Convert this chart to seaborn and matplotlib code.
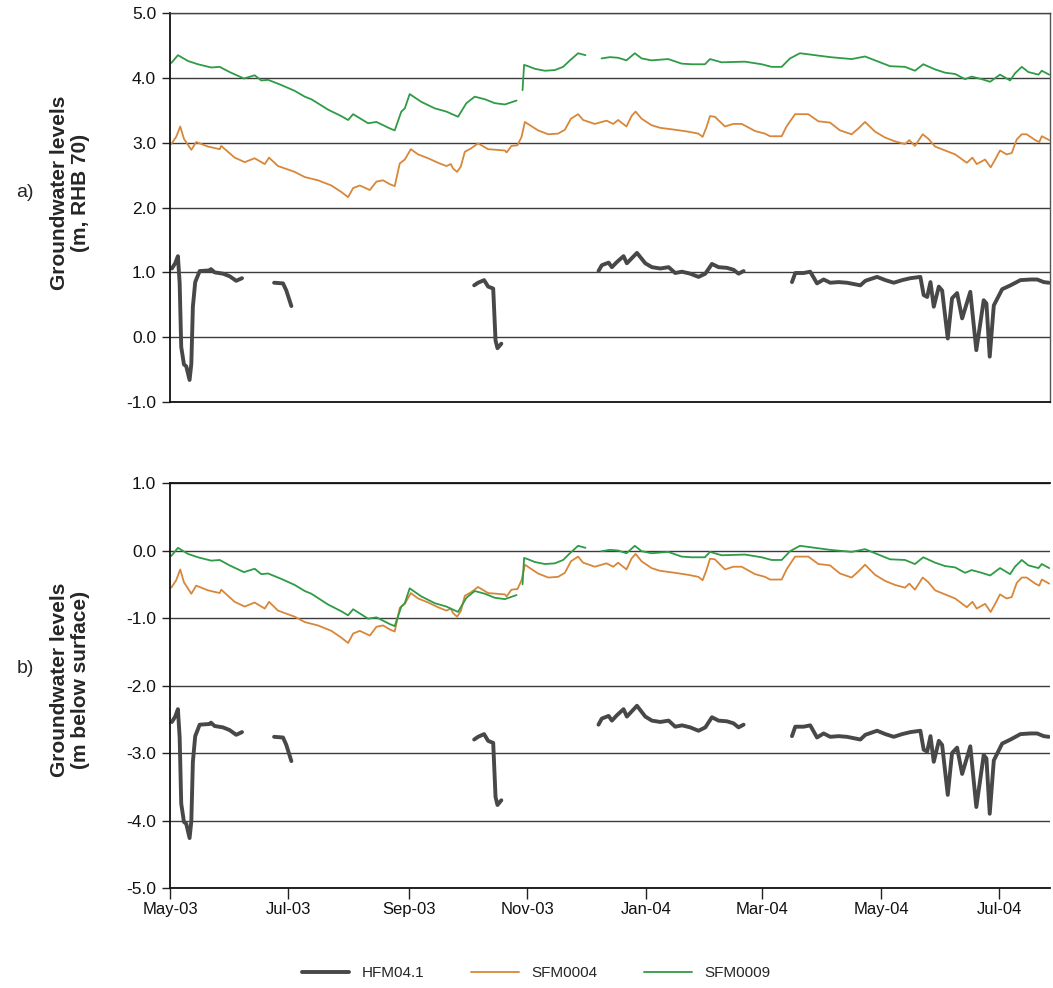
import numpy as np
import pandas as pd
import matplotlib
matplotlib.use("Agg")
import matplotlib.pyplot as plt
import matplotlib.dates as mdates
from matplotlib.lines import Line2D
import seaborn as sns

# ---------------- data (days since 2003-05-01, levels in m RHB 70) ----------------
start_date = "2003-05-01"
nan = np.nan

hfm_days = [1, 2.7, 4.1, 5, 5.8, 7.2, 8.4, 10.1, 11, 11.8, 13, 15.3, 20.4, 21.1, 23, 27.3, 30.7, 34.1, 37.1,
            45,
            53.6, 58.2, 59.9, 62.5,
            100,
            156.6, 158.6, 161.7, 163.8, 166.4, 167.6, 168.6, 170.6,
            200,
            220.6, 222.3, 225.8, 227.5, 230.1, 233.5, 235.2, 240.4, 244.7, 248.1, 252.4, 256.7, 260.1,
            263.6, 267.8, 272.1, 275.6, 279, 282.4, 286.7, 290.1, 292.7, 295.3,
            310,
            320.2, 321.9, 326.2, 329.6, 333.1, 336.5, 339.9, 344.2, 348.5, 355.4, 358, 364, 368.3, 372.6,
            376.9, 381.2, 386.3, 388, 389.8, 391.5, 393.2, 395.8, 397.5, 400.4, 402.6, 405.2, 407.8, 412,
            415.1, 418.9, 420.3, 422, 424.1, 428.4, 432.7, 437.8, 443, 446.4, 449.8, 452.4]
hfm_vals = [1.06, 1.14, 1.25, 0.83, -0.15, -0.42, -0.45, -0.66, -0.41, 0.47, 0.85, 1.02, 1.03, 1.05, 1.00,
            0.98, 0.94, 0.87, 0.91,
            nan,
            0.84, 0.83, 0.72, 0.48,
            nan,
            0.80, 0.84, 0.88, 0.78, 0.75, -0.05, -0.17, -0.10,
            nan,
            1.02, 1.11, 1.15, 1.08, 1.16, 1.25, 1.14, 1.30, 1.14, 1.08, 1.06, 1.08, 0.99,
            1.01, 0.98, 0.93, 0.98, 1.13, 1.08, 1.07, 1.04, 0.98, 1.02,
            nan,
            0.85, 0.99, 0.99, 1.01, 0.83, 0.89, 0.84, 0.85, 0.84, 0.80, 0.87, 0.93, 0.88, 0.84,
            0.88, 0.91, 0.93, 0.65, 0.62, 0.85, 0.47, 0.78, 0.72, -0.02, 0.60, 0.68, 0.29, 0.70,
            -0.20, 0.57, 0.52, -0.30, 0.49, 0.74, 0.80, 0.88, 0.89, 0.89, 0.85, 0.84]

sfm4_days = [0.7, 3.2, 5.3, 7.2, 11, 13.5, 19.6, 25.6, 26.4, 33.3, 38.5, 43.6, 48.8, 51, 55.6, 64.2, 69.4,
             76.2, 83.1, 88.2, 91.7, 94.3, 97.7, 102.9, 106.3, 109.7, 113.2, 115.7, 118.3, 120.9, 124,
             127.7, 132.9, 138, 142.3, 144.6, 145.8, 147.8, 149.7, 151.8, 154.9, 158.6, 163.8, 172.4,
             173.3, 175.8, 178.9, 181, 182.7, 185.3, 189.5, 194.7, 199.8, 203.3, 206.4, 210.1, 212.7,
             218.7, 224.7, 228.2, 230.7, 235, 237.6, 239.7, 242.8, 247.9, 252.2, 260, 266.8, 272, 274.2,
             276.2, 278, 280.5, 285.7, 290, 294.3, 301.2, 306.3, 308.9, 314.9, 317.4, 321.8, 328.6,
             333.8, 339.8, 344.9, 350.9, 354.4, 357.8, 363, 368.1, 373.3, 378.4, 380.6, 383.5, 387.5,
             390.4, 393.9, 399, 404.2, 410.2, 413.1, 415.3, 419.6, 422.5, 424.8, 427.3, 430.7, 433.3,
             435.9, 438.5, 441, 445.4, 447.5, 448.8, 452.6]
sfm4_vals = [2.98, 3.09, 3.25, 3.06, 2.89, 3.01, 2.94, 2.90, 2.95, 2.77, 2.70, 2.76, 2.67, 2.77, 2.64, 2.55,
             2.47, 2.42, 2.34, 2.24, 2.16, 2.30, 2.34, 2.27, 2.40, 2.42, 2.36, 2.33, 2.68, 2.74, 2.90,
             2.82, 2.76, 2.69, 2.64, 2.67, 2.60, 2.55, 2.63, 2.86, 2.91, 2.99, 2.90, 2.88,
             2.85, 2.95, 2.96, 3.09, 3.32, 3.27, 3.19, 3.13, 3.14, 3.20, 3.37, 3.44, 3.35,
             3.29, 3.34, 3.29, 3.35, 3.25, 3.41, 3.48, 3.37, 3.27, 3.23, 3.20, 3.17, 3.14, 3.09,
             3.24, 3.41, 3.40, 3.25, 3.29, 3.29, 3.18, 3.14, 3.10, 3.10, 3.25, 3.44, 3.44,
             3.33, 3.31, 3.19, 3.13, 3.22, 3.32, 3.17, 3.08, 3.02, 2.98, 3.04, 2.95, 3.13,
             3.06, 2.94, 2.88, 2.82, 2.69, 2.77, 2.67, 2.74, 2.62, 2.74, 2.88, 2.82, 2.84,
             3.05, 3.13, 3.13, 3.04, 3.01, 3.10, 3.04]

sfm9_days = [0.7, 4.1, 9.3, 14.4, 21.3, 25.6, 30.7, 38.1, 43.6, 47, 50.5, 57.3, 64.2, 69.4, 72.8, 81.4,
             88.2, 91.7, 94.3, 102, 106.3, 113.2, 115.7, 119.1, 120.9, 123.4, 129.4, 136.3, 142.3, 148.3,
             152.6, 156.9, 162.1, 167.2, 172.4, 178.4,
             180,
             181.5, 182.3, 184.4, 187.8, 193, 198.1, 202.4, 205.9, 210.1, 213.9,
             218,
             222.2, 226.5, 230.7, 235, 239.3, 242.8, 247.9, 256.5, 263.4, 268.5, 275.4, 278, 284, 296,
             304.6, 309.7, 314.9, 319.2, 324.3, 332.1, 339.8, 350.9, 357.8, 364.7, 370.7, 378.4, 383.5,
             387.8, 393.9, 399, 404.2, 409.3, 412.7, 417.9, 422.2, 427.3, 432.5, 435, 438.5, 441.9,
             447.1, 448.8, 452.6]
sfm9_vals = [4.23, 4.35, 4.26, 4.21, 4.16, 4.17, 4.09, 3.99, 4.04, 3.96, 3.97, 3.89, 3.80, 3.71, 3.67, 3.51,
             3.41, 3.35, 3.44, 3.30, 3.32, 3.22, 3.19, 3.48, 3.53, 3.75, 3.63, 3.53, 3.48, 3.40,
             3.61, 3.71, 3.67, 3.61, 3.59, 3.65,
             nan,
             3.81, 4.20, 4.18, 4.14, 4.11, 4.12, 4.17, 4.27, 4.38, 4.35,
             nan,
             4.30, 4.32, 4.31, 4.27, 4.38, 4.30, 4.27, 4.29, 4.22, 4.21, 4.21, 4.29, 4.24, 4.25,
             4.21, 4.17, 4.17, 4.30, 4.38, 4.35, 4.32, 4.29, 4.33, 4.25, 4.18, 4.17, 4.11,
             4.21, 4.13, 4.08, 4.06, 3.98, 4.02, 3.98, 3.94, 4.05, 3.96, 4.07, 4.17, 4.09,
             4.05, 4.11, 4.05]

# ground surface elevations (m RHB 70) used for panel b (m below surface)
surface = {"HFM04.1": 3.60, "SFM0004": 3.53, "SFM0009": 4.31}

wells = ["HFM04.1", "SFM0004", "SFM0009"]
colors = {"HFM04.1": "#484848", "SFM0004": "#D8873A", "SFM0009": "#2E9B45"}
widths = {"HFM04.1": 2.8, "SFM0004": 1.3, "SFM0009": 1.3}

series = {"HFM04.1": (hfm_days, hfm_vals),
          "SFM0004": (sfm4_days, sfm4_vals),
          "SFM0009": (sfm9_days, sfm9_vals)}

t0 = pd.Timestamp(start_date)
frames = []
for w in wells:
    d, v = series[w]
    df = pd.DataFrame({"day": d, "level": v})
    df["seg"] = df["level"].isna().cumsum()
    df = df.dropna()
    df["date"] = t0 + pd.to_timedelta(df["day"], unit="D")
    df["well"] = w
    df["below"] = df["level"] - surface[w]
    frames.append(df)
data = pd.concat(frames, ignore_index=True)

# ---------------- figure ----------------
sns.set_theme(style="white")
plt.rcParams["font.family"] = ["Liberation Sans", "DejaVu Sans"]
plt.rcParams["axes.unicode_minus"] = False

fig = plt.figure(figsize=(10.53, 9.88), dpi=100)
ax1 = fig.add_axes([0.1614, 0.5931, 0.8357, 0.3937])
ax2 = fig.add_axes([0.1614, 0.1012, 0.8357, 0.4099])

xmin = pd.Timestamp("2003-05-01")
xmax = pd.Timestamp("2004-07-27")

for ax, col, ylim in [(ax1, "level", (-1, 5)), (ax2, "below", (-5, 1))]:
    for w in wells:
        sub = data[data["well"] == w]
        for _, seg in sub.groupby("seg"):
            sns.lineplot(data=seg, x="date", y=col, ax=ax, color=colors[w],
                         linewidth=widths[w], estimator=None, sort=False, legend=False)
    ax.set_xlim(xmin, xmax)
    ax.set_ylim(*ylim)
    ax.set_yticks(np.arange(ylim[0], ylim[1] + 0.01, 1.0))
    ax.yaxis.set_major_formatter(matplotlib.ticker.FormatStrFormatter("%.1f"))
    ax.yaxis.grid(True, color="#3c3c3c", linewidth=1.0)
    ax.xaxis.grid(False)
    ax.set_axisbelow(True)
    ax.set_xlabel("")
    ax.set_ylabel("")
    ax.tick_params(axis="y", direction="out", length=6, width=1, color="#222222",
                   labelsize=12.5, pad=4, left=True, labelcolor="#111111")
    for s in ["left", "bottom"]:
        ax.spines[s].set_color("#111111")
        ax.spines[s].set_linewidth(1.3)
    ax.spines["top"].set_color("#444444")
    ax.spines["top"].set_linewidth(1.0)
    ax.spines["right"].set_color("#555555")
    ax.spines["right"].set_linewidth(1.0)
    ax.xaxis.set_major_locator(mdates.MonthLocator(bymonth=[1, 3, 5, 7, 9, 11]))
    ax.xaxis.set_major_formatter(mdates.DateFormatter("%b-%y"))

ax1.tick_params(axis="x", bottom=False, labelbottom=False)
ax2.tick_params(axis="x", direction="out", length=8, width=1, color="#222222",
                labelsize=12, pad=2, bottom=True, labelcolor="#111111")
ax2.spines["top"].set_color("#111111")
ax2.spines["top"].set_linewidth(1.3)
ax2.spines["right"].set_visible(False)

# y labels
fig.text(70 / 1053, 1 - 193 / 988, "Groundwater levels\n(m, RHB 70)", rotation=90,
         ha="center", va="center", fontsize=15, fontweight="bold", linespacing=1.1)
fig.text(70 / 1053, 1 - 680 / 988, "Groundwater levels\n(m below surface)", rotation=90,
         ha="center", va="center", fontsize=15, fontweight="bold", linespacing=1.1)
fig.text(25 / 1053, 1 - 192 / 988, "a)", ha="center", va="center", fontsize=14)
fig.text(25 / 1053, 1 - 668 / 988, "b)", ha="center", va="center", fontsize=14)

handles = [Line2D([], [], color=colors[w], linewidth=widths[w]) for w in wells]
fig.legend(handles, wells, loc="center", bbox_to_anchor=(536 / 1053, 1 - 973 / 988), ncol=3,
           frameon=False, fontsize=11, handlelength=3.1, handletextpad=0.8, columnspacing=3.1)

fig.savefig("out.png", dpi=100)
